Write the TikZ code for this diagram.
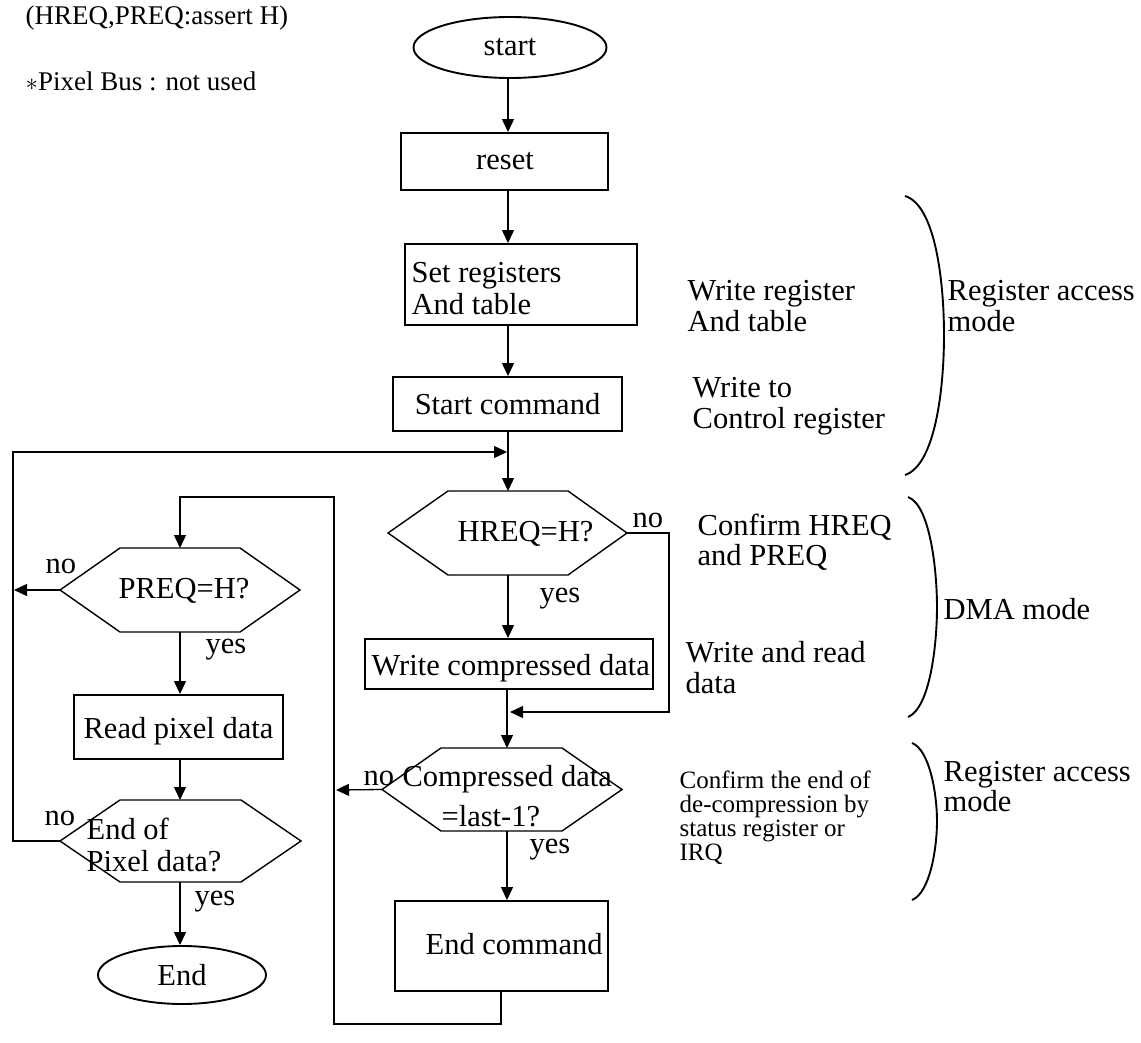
\documentclass[tikz,border=0pt]{standalone}
\usepackage{fontspec}
\setmainfont{Liberation Serif}
\usetikzlibrary{arrows.meta,shapes.geometric}
\newcommand{\bigtxt}{\fontsize{30.5}{31}\selectfont}
\newcommand{\hdrtxt}{\fontsize{27}{30}\selectfont}
\newcommand{\smalltxt}{\fontsize{25}{24}\selectfont}
% hexagonal decision: name, left tip x, inner left x, inner right x, right tip x, top y, bottom y, stem x
\newcommand{\hexnode}[8]{%
  \path (#2,{(#6+#7)/2}) coordinate (#1-w)
        (#5,{(#6+#7)/2}) coordinate (#1-e)
        (#8,#6) coordinate (#1-n)
        (#8,#7) coordinate (#1-s);
  \draw[hexline] (#1-w) -- (#3,#6) -- (#4,#6) -- (#1-e) -- (#4,#7) -- (#3,#7) -- cycle;}
\begin{document}
\begin{tikzpicture}[x=1pt,y=-1pt,
  line width=1.3pt,
  arr/.style={-{Triangle[length=13pt,width=12pt]}},
  flowbox/.style={draw, rectangle, line width=1.9pt, inner sep=0pt},
  term/.style={draw, ellipse, line width=1.9pt, inner sep=0pt},
  hexline/.style={line width=1.4pt, line join=miter},
  txt/.style={anchor=base west, inner sep=0pt, font=\bigtxt},
  ctxt/.style={anchor=base, inner sep=0pt, font=\bigtxt},
  hdr/.style={anchor=base west, inner sep=0pt, font=\hdrtxt},
  note/.style={anchor=base west, inner sep=0pt, font=\smalltxt},
  brace/.style={line width=1.9pt}]
\useasboundingbox (0,0) rectangle (1141,1043);

% header notes
\node[hdr] (hdr1) at (25,25) {(HREQ,PREQ:assert H)};
\node[hdr] (hdr2) at (25,91) {$\ast$Pixel Bus : not used};

% main column
\coordinate (col) at (508,0);
\node[term, minimum width=193pt, minimum height=61pt] (start) at (510,47.5) {};
\node[ctxt] (startT) at (510,56) {start};
\node[flowbox, minimum width=207pt, minimum height=57pt] (reset) at (504.5,161.5) {};
\node[ctxt] (resetT) at (505,170) {reset};
\node[flowbox, minimum width=232pt, minimum height=81pt] (setreg) at (521,284.5) {};
\node[txt] (setregT1) at (411,283) {Set registers};
\node[txt] (setregT2) at (411,314) {And table};
\node[flowbox, minimum width=229pt, minimum height=54pt] (startc) at (507.5,404) {};
\node[ctxt] (startcT) at (507.5,414) {Start command};

\hexnode{hreq}{388}{448}{568}{627}{491}{575}{508}
\node[txt] (hreqT) at (457,541) {HREQ=H?};
\node[txt] (hreqNo) at (632,527) {no};
\node[txt] (hreqYes) at (539,602) {yes};

\node[flowbox, minimum width=288pt, minimum height=50pt] (wcd) at (509,664) {};
\node[txt] (wcdT) at (371,675) {Write compressed data};

\hexnode{cmp}{382}{441}{562}{622}{748}{831}{507}
\node[txt] (cmpT1) at (402,786) {Compressed data};
\node[txt] (cmpT2) at (441,826) {=last-1?};
\node[txt] (cmpNo) at (363,785) {no};
\node[txt] (cmpYes) at (529,853) {yes};

\node[flowbox, minimum width=213pt, minimum height=90pt] (endc) at (501.5,946) {};
\node[txt] (endcT) at (425,954) {End command};

% pixel side
\hexnode{preq}{60}{120}{240}{300}{548}{632}{180}
\node[txt] (preqT) at (118,598) {PREQ=H?};
\node[txt] (preqNo) at (45,573) {no};
\node[txt] (preqYes) at (205,653) {yes};

\node[flowbox, minimum width=209pt, minimum height=64pt] (rpd) at (178.5,727) {};
\node[ctxt] (rpdT) at (178.5,738) {Read pixel data};

\hexnode{eof}{60}{120}{241}{301}{800}{882}{180}
\node[txt] (eofT1) at (86,839) {End of};
\node[txt] (eofT2) at (86,871) {Pixel data?};
\node[txt] (eofNo) at (44,825) {no};
\node[txt] (eofYes) at (194,905) {yes};

\node[term, minimum width=168pt, minimum height=58pt] (fin) at (182,975) {};
\node[ctxt] (finT) at (182,985) {End};

% connectors of the main column
\draw[arr] (start.south -| col) -- (col |- reset.north);
\draw[arr] (reset.south -| col) -- (col |- setreg.north);
\draw[arr] (setreg.south -| col) -- (col |- startc.north);
\draw[arr] (startc.south -| col) -- (hreq-n);
\draw[arr] (hreq-s) -- (hreq-s |- wcd.north);
\coordinate (hrailT) at (669,533);
\coordinate (hrailB) at (669,712);
\coordinate (hmerge) at (510,712);
\draw[arr] (hreq-e) -- (hrailT) -- (hrailB) -- (hmerge);
\draw[arr] (cmp-n |- wcd.south) -- (cmp-n);
\draw[arr] (cmp-s) -- (cmp-s |- endc.north);
\coordinate (rrail) at (336,790);
\draw[arr] (cmp-w) -- (rrail);

% loop from the end command back to the pixel request
\coordinate (loopA) at (501,1024);
\coordinate (loopB) at (334,1024);
\coordinate (loopC) at (334,497);
\coordinate (loopD) at (180,497);
\draw[arr] (endc.south -| loopA) -- (loopA) -- (loopB) -- (loopC) -- (loopD) -- (preq-n);

% pixel side connectors
\coordinate (fbCorner) at (13,452);
\coordinate (fbEnd) at (507,452);
\coordinate (lrail) at (14,590);
\draw[arr] (eof-w) -| (fbCorner) -- (fbEnd);
\draw[arr] (preq-w) -- (lrail);
\draw[arr] (preq-s) -- (preq-s |- rpd.north);
\draw[arr] (preq-s |- rpd.south) -- (eof-n);
\draw[arr] (eof-s) -- (eof-s |- fin.north);

% side comments
\node[txt] (c1a) at (687,300) {Write register};
\node[txt] (c1b) at (687,331) {And table};
\node[txt] (c2a) at (692,397) {Write to};
\node[txt] (c2b) at (692,428) {Control register};
\node[txt] (c3a) at (697,535) {Confirm HREQ};
\node[txt] (c3b) at (697,565) {and PREQ};
\node[txt] (c4a) at (685,662) {Write and read};
\node[txt] (c4b) at (685,693) {data};
\node[note] (c5a) at (679,788) {Confirm the end of};
\node[note] (c5b) at (679,812) {de-compression by};
\node[note] (c5c) at (679,836) {status register or};
\node[note] (c5d) at (679,860) {IRQ};

% mode braces
\draw[brace] (905,196) .. controls (935,205) and (944,280) .. (944,335)
                       .. controls (944,390) and (935,465) .. (905,475);
\node[txt] (m1a) at (947,300) {Register access};
\node[txt] (m1b) at (947,331) {mode};
\draw[brace] (908,497) .. controls (930,505) and (937,570) .. (937,607)
                       .. controls (937,645) and (930,708) .. (908,717);
\node[txt] (m2) at (943,619) {DMA mode};
\draw[brace] (912,743) .. controls (930,750) and (937,795) .. (937,821)
                       .. controls (937,848) and (930,893) .. (912,900);
\node[txt] (m3a) at (943,781) {Register access};
\node[txt] (m3b) at (943,811) {mode};
\end{tikzpicture}
\end{document}
